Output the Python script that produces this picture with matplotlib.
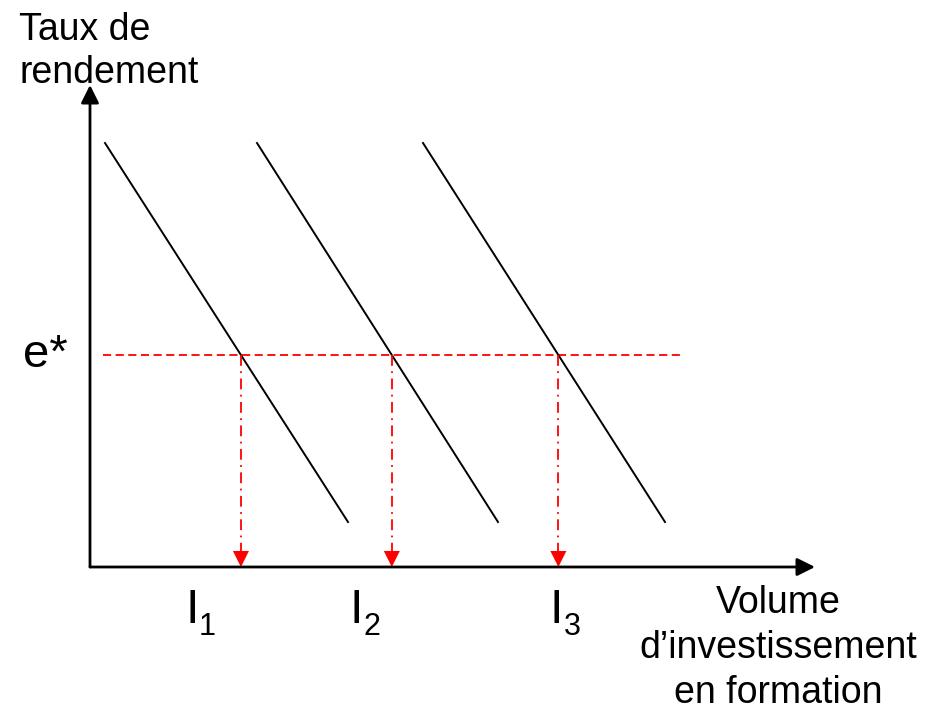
import matplotlib.pyplot as plt
import numpy as np
from matplotlib.patches import Polygon

plt.rcParams["font.family"] = ["Liberation Sans", "DejaVu Sans"]

# diagram units: origin at the corner of the axes, y pointing up
x_axis_end = 725
y_axis_end = 482
# three demand curves (start x, end x), all running from y_top down to y_bottom
curve_x_start = [15, 167, 333]
curve_x_end = [258, 408, 575]
curve_y = [424, 45]
e_star = 212
e_line_x = [13, 592]
i_labels = ["1", "2", "3"]
i_label_x = [95, 260, 460]

fig = plt.figure(figsize=(9.34, 7.07), dpi=100)
ax = fig.add_axes([0, 0, 1, 1])
ax.set_xlim(-90, 844)
ax.set_ylim(-140, 567)
ax.axis("off")

# axes with arrows
head = "-|>,head_length=0.9,head_width=0.45"
ax.annotate("", xy=(x_axis_end, 0), xytext=(0, 0),
            arrowprops=dict(arrowstyle=head, color="black", lw=2,
                            mutation_scale=12, shrinkA=0, shrinkB=0))
ax.annotate("", xy=(0, y_axis_end), xytext=(0, 0),
            arrowprops=dict(arrowstyle=head, color="black", lw=2,
                            mutation_scale=12, shrinkA=0, shrinkB=0))

# e* line
ax.plot(e_line_x, [e_star, e_star], color="red", ls=(0, (4.5, 2.5)), lw=1.3)
ax.text(-67, 200, "e*", fontsize=34, ha="left", va="baseline")

for xs, xe in zip(curve_x_start, curve_x_end):
    ax.plot([xs, xe], curve_y, color="black", lw=1.4)
    # where the curve crosses e*
    xi = np.interp(e_star, curve_y[::-1], [xe, xs])
    ax.plot([xi, xi], [e_star, 15], color="red", ls=(0, (6, 3, 1, 3)), lw=1.3)
    ax.add_patch(Polygon([[xi - 8, 16], [xi + 8, 16], [xi, 0]], closed=True,
                         color="red", lw=0))

for lx, lab in zip(i_label_x, i_labels):
    ax.text(lx, -56, "I", fontsize=35, ha="left", va="baseline")
    ax.text(lx + 13.5, -68, lab, fontsize=22, ha="left", va="baseline")

ax.text(-71, 527, "Taux de", fontsize=27, ha="left", va="baseline")
ax.text(-71, 484, "rendement", fontsize=27, ha="left", va="baseline")
for txt, by in zip(["Volume", "d\u2019investissement", "en formation"], [-46, -91, -136]):
    ax.text(688, by, txt, fontsize=27, ha="center", va="baseline")

fig.savefig("out.png", dpi=100)
